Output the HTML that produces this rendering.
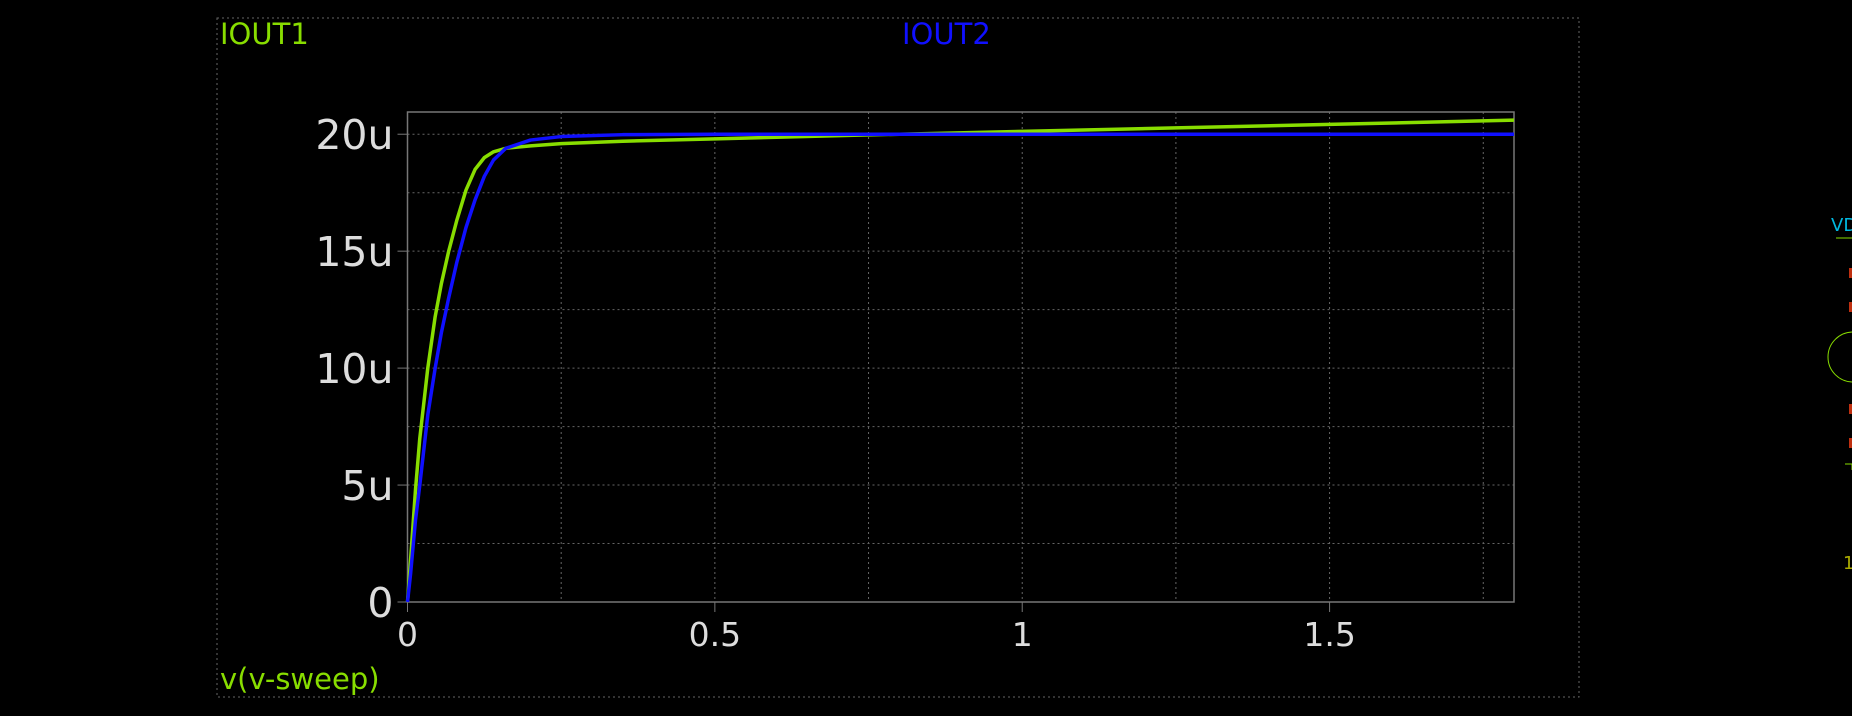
<!DOCTYPE html>
<html><head><meta charset="utf-8"><style>
html,body{margin:0;padding:0;background:#000;width:1852px;height:716px;overflow:hidden}
svg{display:block}
text{font-family:"DejaVu Sans","Liberation Sans",sans-serif}
</style></head><body>
<svg id="chart" width="1852" height="716" viewBox="0 0 1852 716" xmlns="http://www.w3.org/2000/svg">
<rect x="217" y="18" width="1362" height="679" fill="none" stroke="#666" stroke-dasharray="2,3" stroke-width="1"/>
<text x="220" y="44" fill="#88dd00" font-size="29">IOUT1</text>
<text x="902" y="44" fill="#1010ff" font-size="29">IOUT2</text>
<text x="220" y="689" fill="#88dd00" font-size="29">v(v-sweep)</text>
<g id="grid"></g>
<g id="axes"></g>
<g id="series"></g>
<g>
<text x="1831" y="231" fill="#00b8e0" font-size="18">VD</text>
<line x1="1836" y1="238" x2="1852" y2="238" stroke="#88dd00" stroke-width="1"/>
<rect x="1849" y="268" width="4" height="10" fill="#c03010"/>
<rect x="1849" y="302" width="4" height="10" fill="#c03010"/>
<circle cx="1853" cy="357" r="25" fill="none" stroke="#88dd00" stroke-width="1"/>
<rect x="1849" y="404" width="4" height="10" fill="#c03010"/>
<rect x="1849" y="438" width="4" height="10" fill="#c03010"/>
<polyline points="1845,464 1852,464 1852,470" fill="none" stroke="#88dd00" stroke-width="1"/>
<text x="1843" y="569" fill="#aaaa00" font-size="18">1</text>
</g>
</svg>
<script>
const xTicks=[0,0.5,1,1.5];
const xTickLabels=["0","0.5","1","1.5"];
const yTicks=[0,5,10,15,20];
const yTickLabels=["0","5u","10u","15u","20u"];
const vSweep=[0,0.005,0.013,0.02,0.033,0.045,0.055,0.067,0.08,0.095,0.11,0.125,0.14,0.16,0.2,0.25,0.35,0.5,0.75,1.0,1.25,1.5,1.8];
const iout1=[0,1.8,4.8,7,10,12.2,13.6,15,16.3,17.6,18.5,19.0,19.25,19.4,19.5,19.6,19.7,19.8,19.97,20.12,20.27,20.42,20.6];
const iout2=[0,1.2,3.5,5,8,10,11.5,13,14.5,16,17.2,18.2,18.9,19.4,19.75,19.9,19.98,20.0,20.0,20.0,20.0,20.0,20.0];
const X0=407.5,X1=1514,XMAX=1.8,Y0=602,Y1=112,YMAX=20.95;
const sx=v=>X0+(v/XMAX)*(X1-X0);
const sy=v=>Y0-(v/YMAX)*(Y0-Y1);
const NS="http://www.w3.org/2000/svg";
function mk(tag,attrs,parent){const e=document.createElementNS(NS,tag);for(const k in attrs)e.setAttribute(k,attrs[k]);parent.appendChild(e);return e;}
const grid=document.getElementById('grid'),axes=document.getElementById('axes'),series=document.getElementById('series');
for(let v=0.25;v<XMAX;v+=0.25){const l=mk('line',{x1:sx(v),x2:sx(v),y1:Y1,y2:Y0,stroke:'#666','stroke-dasharray':'2,3'},grid);

}
for(let v=2.5;v<YMAX;v+=2.5){const l=mk('line',{x1:X0,x2:X1,y1:sy(v),y2:sy(v),stroke:'#666','stroke-dasharray':'2,3'},grid);

}
const fr=mk('rect',{x:X0,y:Y1,width:X1-X0,height:Y0-Y1,fill:'none',stroke:'#777','stroke-width':1.5},axes);


xTicks.forEach((v,i)=>{mk('line',{x1:sx(v),x2:sx(v),y1:Y0,y2:Y0+10,stroke:'#777'},axes);
const t=mk('text',{x:sx(v),y:Y0+44,fill:'#ddd','font-size':33,'text-anchor':'middle'},axes);t.textContent=xTickLabels[i];

});
yTicks.forEach((v,i)=>{mk('line',{x1:X0-10,x2:X0,y1:sy(v),y2:sy(v),stroke:'#777'},axes);
const t=mk('text',{x:X0-14,y:sy(v)+15,fill:'#ddd','font-size':41,'text-anchor':'end'},axes);t.textContent=yTickLabels[i];

});
function line(vals,color,name){const p=mk('polyline',{points:vSweep.map((v,i)=>sx(v)+','+sy(vals[i])).join(' '),fill:'none',stroke:color,'stroke-width':3.5,'stroke-linejoin':'round'},series);

}
line(iout1,'#88dd00','iout1-line');
line(iout2,'#1010ff','iout2-line');
</script>
</body></html>
